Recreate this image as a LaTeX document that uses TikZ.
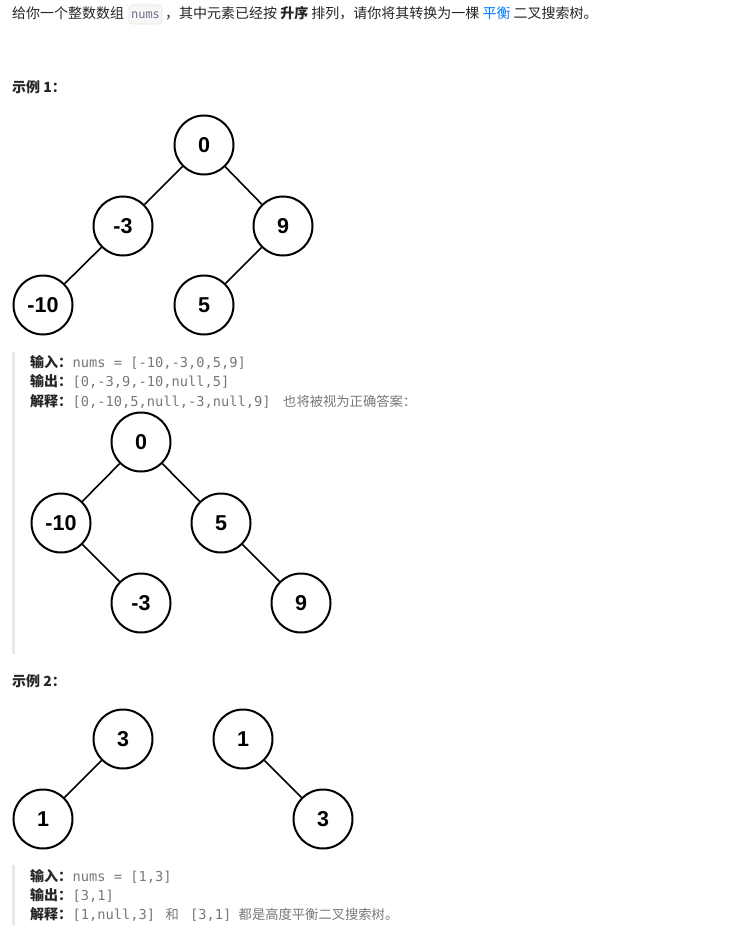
\documentclass[tikz,border=0pt]{standalone}
\usepackage{fontspec}
\setmainfont{Noto Sans CJK SC}
\newfontfamily\codefont{DejaVu Sans Mono}
\newfontfamily\numfont{Liberation Sans}
\definecolor{txt}{RGB}{38,38,38}
\definecolor{codegray}{RGB}{120,120,120}
\definecolor{lcblue}{RGB}{0,122,255}
\definecolor{barcol}{RGB}{232,232,232}
\definecolor{boxfill}{RGB}{247,247,247}
\definecolor{boxline}{RGB}{228,228,228}
\tikzset{
  tn/.style={circle,draw=black,line width=2pt,minimum size=59pt,inner sep=0pt,
    font=\numfont\bfseries\fontsize{21.5}{23}\selectfont},
  te/.style={line width=1.6pt},
  lbl/.style={anchor=base west,inner sep=0pt,text=txt,font=\fontsize{14}{16}\selectfont},
  blbl/.style={lbl,font=\bfseries\fontsize{14}{16}\selectfont},
  code/.style={anchor=base west,inner sep=0pt,text=codegray,font=\codefont\fontsize{13.7}{16}\selectfont},
  gtxt/.style={anchor=base west,inner sep=0pt,text=codegray,font=\fontsize{13.3}{16}\selectfont},
}
\begin{document}
\begin{tikzpicture}[x=1pt,y=-1pt]
\useasboundingbox[fill=white] (0,0) rectangle (730,936);
% top line
\node[lbl] (t1) at (12,19) {给你一个整数数组};
\draw[fill=boxfill,draw=boxline,rounded corners=3pt,line width=0.6pt] (129,5) rectangle (162,24);
\node[anchor=base,inner sep=0pt,text=codegray!90!blue,font=\codefont\fontsize{12}{14}\selectfont] (nums) at (145.5,19) {nums};
\node[lbl] (t2) at (165,19) {，其中元素已经按 \textbf{升序} 排列，请你将其转换为一棵 \textcolor{lcblue}{平衡} 二叉搜索树。};
% example 1
\node[blbl] (ex1) at (12,93) {示例 1：};
\node[tn] (a0) at (204,145) {0};
\node[tn] (am3) at (123,226) {-3};
\node[tn] (a9) at (283,226) {9};
\node[tn] (am10) at (43,305) {-10};
\node[tn] (a5) at (204,305) {5};
\draw[te] (a0) -- (am3);
\draw[te] (a0) -- (a9);
\draw[te] (am3) -- (am10);
\draw[te] (a9) -- (a5);
\fill[barcol] (12,352) rectangle (14.5,654);
\node[blbl] (in1) at (30,367) {输入：};
\node[code] (in1c) at (72.5,367) {nums = [-10,-3,0,5,9]};
\node[blbl] (out1) at (30,386.5) {输出：};
\node[code] (out1c) at (72.5,386.5) {[0,-3,9,-10,null,5]};
\node[blbl] (ex1l) at (30,406) {解释：};
\node[code] (ex1c) at (72.5,406) {[0,-10,5,null,-3,null,9]};
\node[gtxt] (ex1t) at (283,406) {也将被视为正确答案：};
\node[tn] (b0) at (141,442) {0};
\node[tn] (bm10) at (61,523) {-10};
\node[tn] (b5) at (221,523) {5};
\node[tn] (bm3) at (141,603) {-3};
\node[tn] (b9) at (301,603) {9};
\draw[te] (b0) -- (bm10);
\draw[te] (b0) -- (b5);
\draw[te] (bm10) -- (bm3);
\draw[te] (b5) -- (b9);
% example 2
\node[blbl] (ex2) at (12,686) {示例 2：};
\node[tn] (c3) at (123,739) {3};
\node[tn] (c1) at (43,819) {1};
\node[tn] (d1) at (243,739) {1};
\node[tn] (d3) at (323,819) {3};
\draw[te] (c3) -- (c1);
\draw[te] (d1) -- (d3);
\fill[barcol] (12,865) rectangle (14.5,925);
\node[blbl] (in2) at (30,881) {输入：};
\node[code] (in2c) at (72.5,881) {nums = [1,3]};
\node[blbl] (out2) at (30,900) {输出：};
\node[code] (out2c) at (72.5,900) {[3,1]};
\node[blbl] (ex2l) at (30,919) {解释：};
\node[code] (ex2c) at (72.5,919) {[1,null,3]};
\node[gtxt] (he) at (165.5,919) {和};
\node[code] (ex2d) at (190,919) {[3,1]};
\node[gtxt] (ex2t) at (238.5,919) {都是高度平衡二叉搜索树。};
\end{tikzpicture}
\end{document}
